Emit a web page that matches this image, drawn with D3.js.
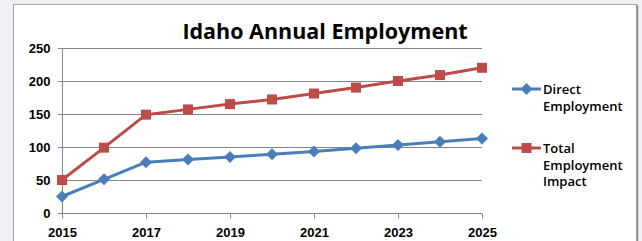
<!DOCTYPE html>
<html>
<head>
<meta charset="utf-8">
<script src="https://cdn.jsdelivr.net/npm/d3@7"></script>
<style>
  body { margin: 0; background: #eef0f5; }
  svg { display: block; font-family: "Open Sans", "DejaVu Sans", sans-serif; }
</style>
</head>
<body>
<svg id="chart"></svg>
<script>
// data
const years = [2015, 2016, 2017, 2018, 2019, 2020, 2021, 2022, 2023, 2024, 2025];
const direct = [25, 51, 77, 81, 85, 89, 93, 98, 103, 108, 113];
const totalImpact = [50, 99, 149, 157, 165, 172, 181, 190, 200, 209, 220];
const yTicks = [0, 50, 100, 150, 200, 250];
const xTicks = [2015, 2017, 2019, 2021, 2023, 2025];

const width = 642, height = 241;
const svg = d3.select("#chart").attr("width", width).attr("height", height);

// chart frame
svg.append("rect").attr("x", 13.5).attr("y", 4.5).attr("width", 623).attr("height", 250)
  .attr("fill", "#fff").attr("stroke", "#a6a6a6");
svg.append("line").attr("x1", 637.5).attr("x2", 637.5).attr("y1", 5).attr("y2", 241)
  .attr("stroke", "#8c8c8c").attr("stroke-width", 1.5);

const x = d3.scaleLinear().domain([2015, 2025]).range([62, 482]);
const y = d3.scaleLinear().domain([0, 250]).range([213, 48]);

// gridlines
svg.append("g").selectAll("line").data(yTicks.slice(1)).join("line")
  .attr("x1", 58).attr("x2", 482)
  .attr("y1", d => Math.round(y(d)) + 0.5).attr("y2", d => Math.round(y(d)) + 0.5)
  .attr("stroke", "#868686");

// y axis
const yAxis = svg.append("g").attr("transform", "translate(62.5,0)")
  .call(d3.axisLeft(y).tickValues(yTicks).tickSize(4).tickPadding(8));
yAxis.select(".domain").attr("stroke", "#868686").attr("d", `M0,${y(0)}V${y(250)}`);
yAxis.selectAll(".tick line").attr("stroke", "#868686");
yAxis.selectAll("text").attr("fill", "#000").style("font-size", "13px").style("font-weight", 600);

// x axis
const xAxis = svg.append("g").attr("transform", `translate(0,${Math.round(y(0)) + 0.5})`)
  .call(d3.axisBottom(x).tickValues(xTicks).tickFormat(d3.format("d")).tickSize(5).tickPadding(9));
xAxis.select(".domain").attr("stroke", "#868686").attr("d", `M58,0H${x(2025)}`);
xAxis.selectAll(".tick line").attr("stroke", "#868686");
xAxis.selectAll("text").attr("fill", "#000").style("font-size", "13px").style("font-weight", 600);

// title
svg.append("text").attr("x", 325).attr("y", 39).attr("text-anchor", "middle")
  .style("font-size", "21.5px").style("font-weight", 700).text("Idaho Annual Employment");

const line = d3.line().x((d, i) => x(years[i])).y(d => y(d));

const series = [
  { name: ["Direct", "Employment"], values: direct, color: "#4a7ebb", marker: "diamond" },
  { name: ["Total", "Employment", "Impact"], values: totalImpact, color: "#be4b48", marker: "square" }
];

function drawMarker(g, s, cx, cy) {
  if (s.marker === "square") {
    g.append("rect").attr("x", cx - 5).attr("y", cy - 5).attr("width", 10).attr("height", 10)
      .attr("fill", s.color);
  } else {
    g.append("path").attr("d", `M${cx},${cy - 6}L${cx + 6},${cy}L${cx},${cy + 6}L${cx - 6},${cy}Z`)
      .attr("fill", s.color);
  }
}

series.forEach(s => {
  svg.append("path").datum(s.values).attr("d", line)
    .attr("fill", "none").attr("stroke", s.color).attr("stroke-width", 3).attr("stroke-linejoin", "round");
  const g = svg.append("g");
  s.values.forEach((v, i) => drawMarker(g, s, x(years[i]), y(v)));
});

// legend
const legendY = [89, 148];
series.forEach((s, k) => {
  const g = svg.append("g");
  const ly = legendY[k];
  g.append("line").attr("x1", 512).attr("x2", 541).attr("y1", ly).attr("y2", ly)
    .attr("stroke", s.color).attr("stroke-width", 3);
  drawMarker(g, s, 526.5, ly);
  s.name.forEach((t, j) => {
    g.append("text").attr("x", 543).attr("y", ly + 5 + j * 16.5)
      .style("font-size", "13px").style("font-weight", 600).text(t);
  });
});
</script>
</body>
</html>
